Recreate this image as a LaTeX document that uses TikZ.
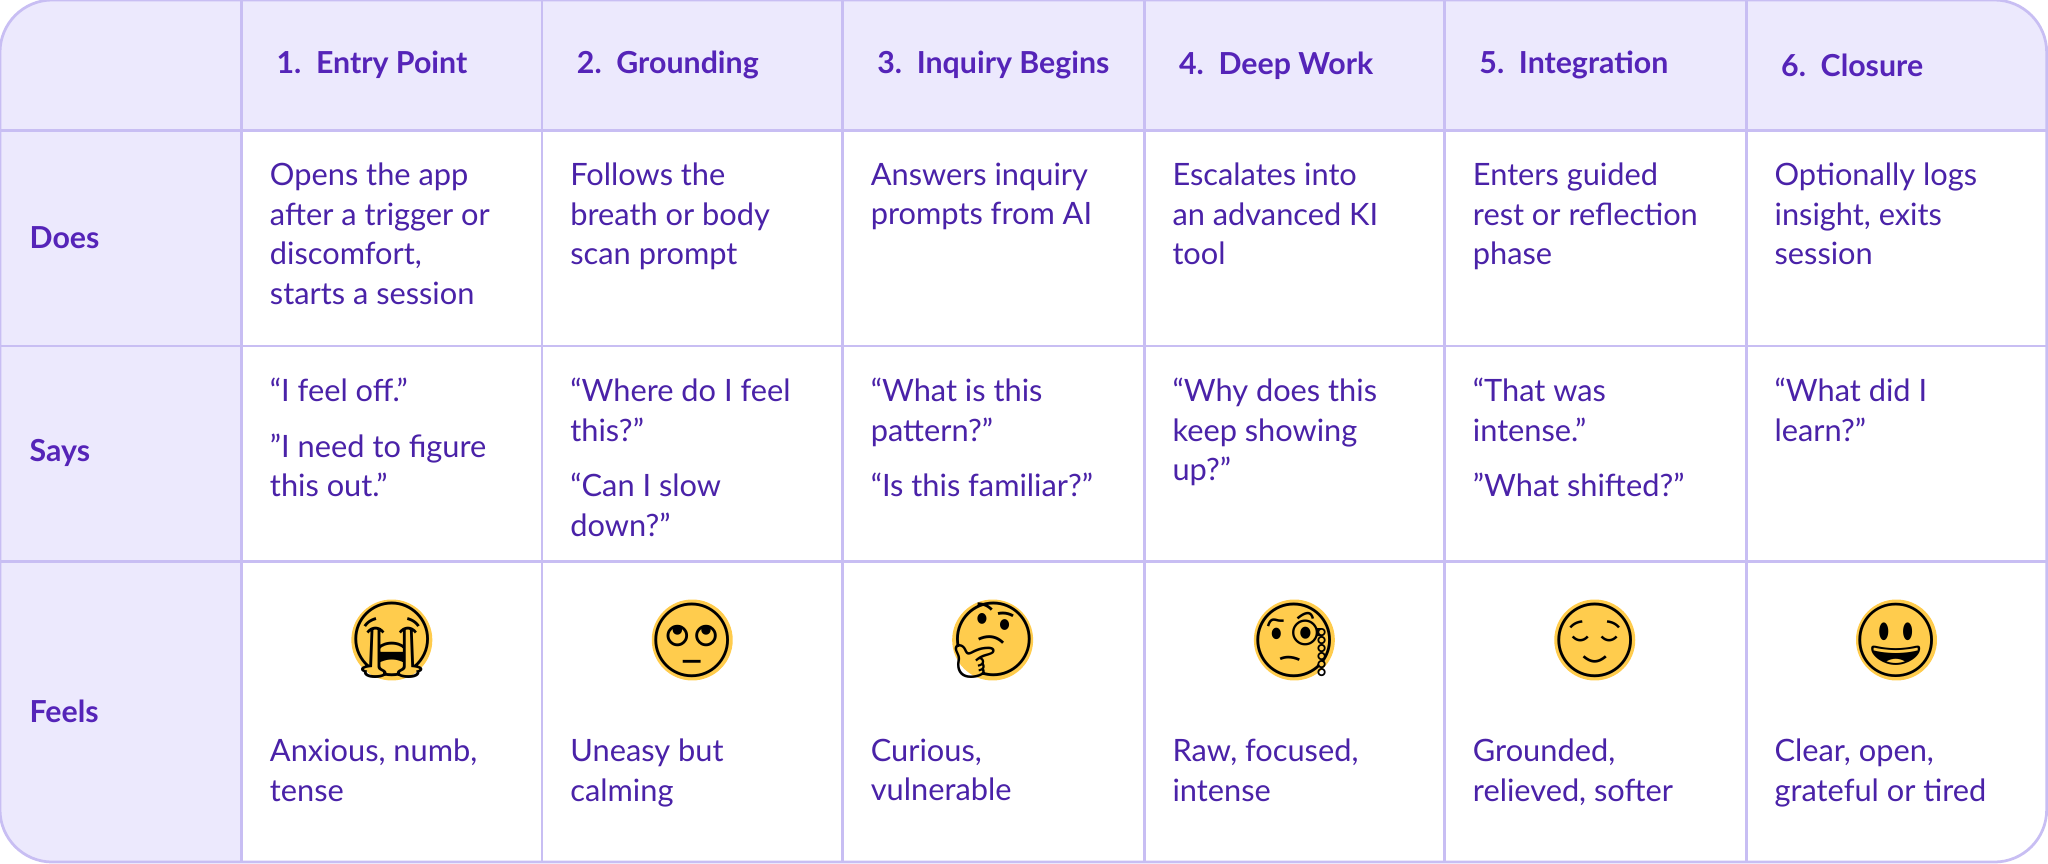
\documentclass[tikz,border=0pt]{standalone}
\usepackage{fontspec}
\setmainfont{Lato}
\newfontfamily\emojifont{Noto Emoji}
\definecolor{ink}{HTML}{4A22A8}
\definecolor{head}{HTML}{5524B8}
\definecolor{lav}{HTML}{ECE9FD}
\definecolor{grid}{HTML}{C8BEF3}
\definecolor{face}{HTML}{FFCC4D}
\begin{document}
\begin{tikzpicture}[x=0.01cm,y=-0.01cm,
	cell/.style={anchor=north west,align=left,inner sep=0pt,text=ink,font=\fontsize{6.7}{8.6}\selectfont},
	headtxt/.style={anchor=west,inner sep=0pt,text=head,font=\fontsize{6.6}{8}\selectfont\bfseries},
	emo/.style={inner sep=0pt,font=\emojifont\fontsize{16}{16}\selectfont}]
	\useasboundingbox (0,0) rectangle (1568,661);
	% background
	\begin{scope}
		\clip[rounded corners=0.4cm] (0,0) rectangle (1567,660);
		\fill[lav] (0,0) rectangle (1567,660);
		\fill[white] (185,100) rectangle (1567,660);
	\end{scope}
	% grid
	\foreach \x in {185,415,645,876,1106,1337}
		\draw[grid,semithick] (\x,0) -- (\x,660);
	\foreach \y in {100,265,430}
		\draw[grid,semithick] (0,\y) -- (1567,\y);
	\draw[grid,semithick,rounded corners=0.4cm] (0,0) rectangle (1567,660);
	% row labels
	\node[headtxt] (does) at (22,182) {Does};
	\node[headtxt] (says) at (22,347) {Says};
	\node[headtxt] (feels) at (22,545) {Feels};
	% columns
	\foreach \x/\t/\d/\s/\e/\f [count=\i] in {
		185/1.\ \ Entry Point/{Opens the app\\after a trigger or\\discomfort,\\starts a session}/{“I feel off.”\\[3.5pt] ”I need to figure\\this out.”}/{😭}/{Anxious, numb,\\tense},
		415/2.\ \ Grounding/{Follows the\\breath or body\\scan prompt}/{“Where do I feel\\this?”\\[3.5pt] “Can I slow\\down?”}/{🙄}/{Uneasy but\\calming},
		645/3.\ \ Inquiry Begins/{Answers inquiry\\prompts from AI}/{“What is this\\pattern?”\\[3.5pt] “Is this familiar?”}/{🤔}/{Curious,\\vulnerable},
		876/4.\ \ Deep Work/{Escalates into\\an advanced KI\\tool}/{“Why does this\\keep showing\\up?”}/{🧐}/{Raw, focused,\\intense},
		1106/5.\ \ Integration/{Enters guided\\rest or reflection\\phase}/{“That was\\intense.”\\[3.5pt] ”What shifted?”}/{😌}/{Grounded,\\relieved, softer},
		1337/6.\ \ Closure/{Optionally logs\\insight, exits\\session}/{“What did I\\learn?”}/{😃}/{Clear, open,\\grateful or tired}} {
		\node[headtxt] (step\i) at (\x+26,50) {\t};
		\node[cell] (does\i) at (\x+21,124) {\d};
		\node[cell] (says\i) at (\x+21,289) {\s};
		\fill[face] (\x+115,490) circle (31);
		\node[emo] (face\i) at (\x+115,490) {\e};
		\node[cell] (feels\i) at (\x+21,565) {\f};
	}
\end{tikzpicture}
\end{document}
